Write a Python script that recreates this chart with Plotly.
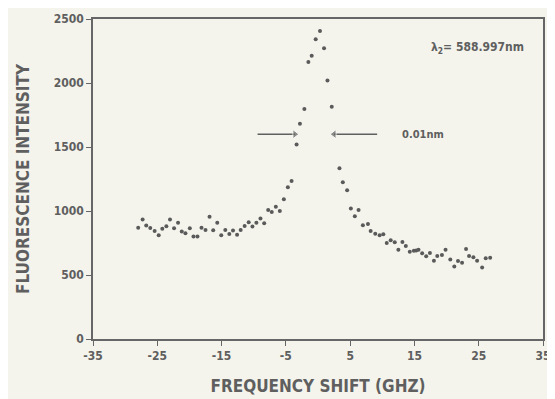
import plotly.graph_objects as go

# Frequency shift (GHz) and fluorescence intensity
freq_shift = [
    -27.97, -27.28, -26.72, -26.09, -25.41, -24.78, -24.22, -23.59, -23.02, -22.39,
    -21.77, -21.19, -20.62, -19.94, -19.37, -18.75, -18.12, -17.50, -16.87, -16.30,
    -15.67, -15.05, -14.42, -13.80, -13.22, -12.59, -12.03, -11.41, -10.78, -10.20,
    -9.58, -8.95, -8.37, -7.75, -7.19, -6.56, -5.94, -5.31, -4.69, -4.11,
    -3.33, -2.81, -2.12, -1.50, -0.98, -0.36, 0.31, 0.94, 1.47, 2.14,
    3.34, 3.86, 4.53,
    5.11, 5.73, 6.31, 6.98, 7.77, 8.19, 8.91, 9.59, 10.16, 10.69,
    11.31, 11.94, 12.50, 13.13, 13.66, 14.28, 14.91, 15.27, 15.63, 16.20,
    16.83, 17.41, 18.03, 18.55, 19.28, 19.84, 20.58, 21.20, 21.78, 22.41,
    23.03, 23.50, 24.17, 24.75, 25.53, 26.09, 26.78,
]
intensity = [
    870, 933, 886, 867, 844, 810, 862, 880, 933, 865,
    909, 839, 826, 865, 800, 800, 870, 851, 956, 849,
    909, 810, 851, 820, 847, 815, 851, 883, 912, 878,
    909, 941, 904, 1008, 992, 1034, 1000, 1092, 1185, 1235,
    1520, 1681, 1796, 2164, 2213, 2341, 2406, 2271, 2020, 1814,
    1334, 1225, 1162,
    1019, 959, 1008, 888, 898, 844, 823, 810, 818, 750,
    771, 755, 698, 757, 726, 682, 690, 692, 698, 669,
    646, 671, 612, 648, 656, 698, 622, 567, 609, 596,
    703, 648, 638, 612, 559, 630, 635,
]

x_ticks = [-35, -25, -15, -5, 5, 15, 25, 35]
x_tick_text = ["-35", "-25", "-15", "-5", "5", "15", "25", "35"]
y_ticks = [0, 500, 1000, 1500, 2000, 2500]

# Linewidth marker (0.01 nm): arrows [tail, tip] and labels
arrow_y = 1600
left_arrow = [-9.4, -3.6]
right_arrow = [9.2, 2.5]
width_label = "0.01nm"
wavelength_label = "λ<sub>2</sub>= 588.997nm"

FONT = "DejaVu Sans Condensed"
INK = "#5f5f5f"
BG = "#f4f4ec"

fig = go.Figure()
fig.add_trace(go.Scatter(
    x=freq_shift, y=intensity, mode="markers",
    marker=dict(size=4, color="#5a5a5a"),
    showlegend=False, hoverinfo="x+y",
))

for arr, head in ((left_arrow, "triangle-right"), (right_arrow, "triangle-left")):
    fig.add_trace(go.Scatter(
        x=arr, y=[arrow_y, arrow_y], mode="lines+markers",
        line=dict(color=INK, width=1.6),
        marker=dict(symbol=["circle", head], size=[0, 8], color=INK),
        showlegend=False, hoverinfo="skip",
    ))

fig.add_annotation(x=12.7, y=arrow_y, xref="x", yref="y", text=width_label,
                   showarrow=False, xanchor="left", yanchor="middle",
                   font=dict(family=FONT, size=11, color=INK, weight="bold"))
fig.add_annotation(x=17.3, y=2273, xref="x", yref="y", text=wavelength_label,
                   showarrow=False, xanchor="left", yanchor="middle",
                   font=dict(family=FONT, size=12, color=INK, weight="bold"))

axis_common = dict(
    showline=True, mirror=True, linecolor="#666666", linewidth=1.5,
    ticks="outside", ticklen=5, tickcolor="#666666", tickwidth=1.2,
    showgrid=False, zeroline=False, automargin=False,
    tickfont=dict(family=FONT, size=12, color=INK, weight="bold"),
)

fig.update_xaxes(range=[-35, 35], tickvals=x_ticks, ticktext=x_tick_text,
                 title=dict(text="FREQUENCY SHIFT (GHZ)",
                            font=dict(family=FONT, size=17, color=INK, weight="bold"), standoff=18),
                 **axis_common)
fig.update_yaxes(range=[0, 2500], tickvals=y_ticks,
                 title=dict(text="FLUORESCENCE INTENSITY",
                            font=dict(family=FONT, size=17, color=INK, weight="bold"), standoff=20),
                 **axis_common)

# the page places the figure 8px in from the top-left corner, so the figure is
# sized and margined to land the plot box where the reference has it
fig.update_layout(
    width=547, height=391,
    margin=dict(l=85, r=12, t=11, b=60),
    paper_bgcolor=BG, plot_bgcolor=BG,
    font=dict(family=FONT, color=INK),
)

fig.write_html("out.html")
